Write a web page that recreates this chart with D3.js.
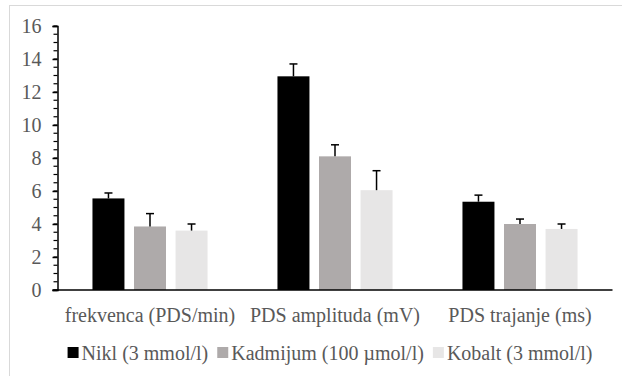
<!DOCTYPE html>
<html>
<head>
<meta charset="utf-8">
<script src="https://cdn.jsdelivr.net/npm/d3@7"></script>
<style>
  body { margin: 0; background: #fff; }
  svg { display: block; }
  svg text { font-family: 'Liberation Serif', serif !important; }
</style>
</head>
<body>
<svg id="chart" width="622" height="376" font-family="Liberation Serif"></svg>
<script>
const categories = ['frekvenca (PDS/min)', 'PDS amplituda (mV)', 'PDS trajanje (ms)'];
const seriesNames = ['Nikl (3 mmol/l)', 'Kadmijum (100 µmol/l)', 'Kobalt (3 mmol/l)'];
const nikl = [5.55, 12.95, 5.35];
const niklErr = [0.33, 0.75, 0.4];
const kadmijum = [3.85, 8.1, 4.0];
const kadmijumErr = [0.78, 0.7, 0.3];
const kobalt = [3.6, 6.05, 3.7];
const kobaltErr = [0.4, 1.18, 0.3];
const yTicks = [0, 2, 4, 6, 8, 10, 12, 14, 16];

const colors = ['#000000', '#AEAAAA', '#E7E6E6'];
const textColor = '#595959';
const serifFont = 'Liberation Serif';
const fontSize = 20;

const values = [nikl, kadmijum, kobalt];
const errors = [niklErr, kadmijumErr, kobaltErr];

const svg = d3.select('#chart');

// chart area border (right/bottom run off the picture)
svg.append('rect')
  .attr('x', 9.5).attr('y', 5.5)
  .attr('width', 700).attr('height', 500)
  .attr('fill', 'none')
  .attr('stroke', '#d9d9d9');

const plotLeft = 57.5, plotRight = 612.5, plotTop = 26, plotBottom = 290;

const x0 = d3.scaleBand().domain(categories).range([plotLeft, plotRight]).paddingInner(0.378).paddingOuter(0.189);
const x1 = d3.scaleBand().domain(d3.range(3)).range([0, x0.bandwidth()]).paddingInner(0.23);
const y = d3.scaleLinear().domain([0, 16]).range([plotBottom, plotTop]);

// minor ticks
svg.append('g')
  .selectAll('line')
  .data(d3.range(0, 16.01, 0.5))
  .enter().append('line')
  .attr('x1', plotLeft - 4).attr('x2', plotLeft)
  .attr('y1', d => y(d)).attr('y2', d => y(d))
  .attr('stroke', '#000').attr('stroke-width', 1.2);

// y axis
const yAxis = svg.append('g')
  .attr('transform', `translate(${plotLeft},0)`)
  .call(d3.axisLeft(y).tickValues(yTicks).tickSize(5).tickPadding(11).tickFormat(d3.format('d')))
  .attr('font-family', serifFont)
  .attr('font-size', fontSize);
yAxis.select('.domain').attr('stroke', '#000').attr('stroke-width', 1.5);
yAxis.selectAll('.tick line').attr('stroke', '#000').attr('stroke-width', 1.5);
yAxis.selectAll('.tick text')
  .attr('fill', textColor)
  .style('font-family', serifFont)
  .style('font-size', fontSize + 'px');

// bars
const groups = svg.append('g')
  .selectAll('g')
  .data(categories)
  .enter().append('g')
  .attr('transform', d => `translate(${x0(d)},0)`);

groups.selectAll('rect')
  .data((d, ci) => values.map((s, si) => ({ si, v: s[ci], e: errors[si][ci] })))
  .enter().append('rect')
  .attr('x', d => x1(d.si))
  .attr('y', d => y(d.v))
  .attr('width', x1.bandwidth())
  .attr('height', d => y(0) - y(d.v))
  .attr('fill', d => colors[d.si]);

// error bars (plus only)
const err = groups.selectAll('g.err')
  .data((d, ci) => values.map((s, si) => ({ si, v: s[ci], e: errors[si][ci] })))
  .enter().append('g').attr('class', 'err');

err.append('line')
  .attr('x1', d => x1(d.si) + x1.bandwidth() / 2)
  .attr('x2', d => x1(d.si) + x1.bandwidth() / 2)
  .attr('y1', d => y(d.v))
  .attr('y2', d => y(d.v + d.e))
  .attr('stroke', '#000').attr('stroke-width', 1.5);

err.append('line')
  .attr('x1', d => x1(d.si) + x1.bandwidth() / 2 - 4)
  .attr('x2', d => x1(d.si) + x1.bandwidth() / 2 + 4)
  .attr('y1', d => y(d.v + d.e))
  .attr('y2', d => y(d.v + d.e))
  .attr('stroke', '#000').attr('stroke-width', 1.5);

// x axis line
svg.append('line')
  .attr('x1', plotLeft - 5).attr('x2', plotRight)
  .attr('y1', y(0)).attr('y2', y(0))
  .attr('stroke', '#000').attr('stroke-width', 1.5);

// category labels
svg.append('g')
  .selectAll('text')
  .data(categories)
  .enter().append('text')
  .attr('x', d => x0(d) + x0.bandwidth() / 2)
  .attr('y', 322)
  .attr('text-anchor', 'middle')
  .attr('fill', textColor)
  .style('font-family', serifFont)
  .style('font-size', fontSize + 'px')
  .text(d => d);

// legend
const legend = svg.append('g');
let lx = 0;
seriesNames.forEach((name, i) => {
  const item = legend.append('g').attr('transform', `translate(${lx},0)`);
  item.append('rect')
    .attr('x', 0).attr('y', -6)
    .attr('width', 11).attr('height', 11)
    .attr('fill', colors[i]);
  const t = item.append('text')
    .attr('x', 14).attr('y', 7)
    .attr('fill', textColor)
    .style('font-family', serifFont)
    .style('font-size', fontSize + 'px')
    .text(name);
  lx += 14 + t.node().getComputedTextLength() + 9;
});
const legendWidth = lx - 9;
legend.attr('transform', `translate(${330 - legendWidth / 2},353)`);
</script>
</body>
</html>
